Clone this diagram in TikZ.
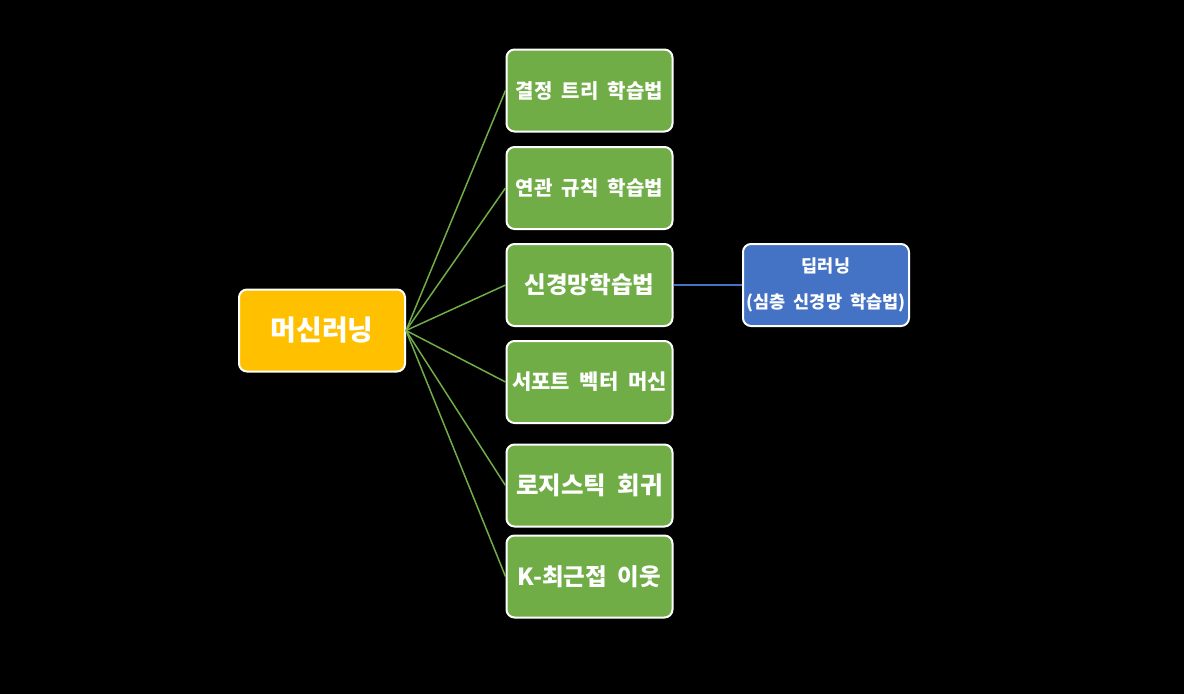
\documentclass[tikz,border=0pt]{standalone}
\usepackage{fontspec}
\newfontfamily\kor[WordSpace=2]{Noto Sans CJK KR}
\definecolor{mlyellow}{HTML}{FFC000}
\definecolor{mlgreen}{HTML}{70AD47}
\definecolor{mlblue}{HTML}{4472C4}

\begin{document}
\begin{tikzpicture}[x=1pt, y=-1pt,
    main node/.style={rectangle, rounded corners=8pt, draw=white, line width=2pt, text=white,
      minimum width=166pt, minimum height=82pt, inner sep=2pt, font=\kor\bfseries},
    root node/.style={main node, fill=mlyellow, font=\kor\bfseries\fontsize{28}{32}\selectfont},
    algo node/.style={main node, fill=mlgreen},
    sub node/.style={main node, fill=mlblue, align=center},
    branch/.style={mlgreen, line width=1.5pt},
    ]
  \fill[black] (0,0) rectangle (1184,694);
  \useasboundingbox (0,0) rectangle (1184,694);

  \node[root node] (ml) at (322, 330.5) {머신러닝};

  \node[algo node, font=\kor\bfseries\fontsize{20}{24}\selectfont] (tree) at (589.5, 90.5) {결정 트리 학습법};
  \node[algo node, font=\kor\bfseries\fontsize{20}{24}\selectfont] (assoc) at (589.5, 188) {연관 규칙 학습법};
  \node[algo node, font=\kor\bfseries\fontsize{23.5}{28}\selectfont] (nn) at (589.5, 285) {신경망학습법};
  \node[algo node, font=\kor\bfseries\fontsize{21}{25}\selectfont] (svm) at (589.5, 382) {서포트 벡터 머신};
  \node[algo node, font=\kor\bfseries\fontsize{24.5}{29}\selectfont] (logit) at (589.5, 485.5) {로지스틱 회귀};
  \node[algo node, font=\kor\bfseries\fontsize{23.5}{28}\selectfont] (knn) at (589.5, 576.5) {K-최근접 이웃};

  \node[sub node, font=\kor\bfseries\fontsize{17.5}{36}\selectfont] (deep) at (826, 285) {딥러닝\\(심층 신경망 학습법)};

  \foreach \n in {tree, assoc, nn, svm, logit, knn}
    \draw[branch] (ml.east) -- (\n.west);

  \draw[mlblue, line width=2pt] (nn.east) -- (deep.west);
\end{tikzpicture}
\end{document}
